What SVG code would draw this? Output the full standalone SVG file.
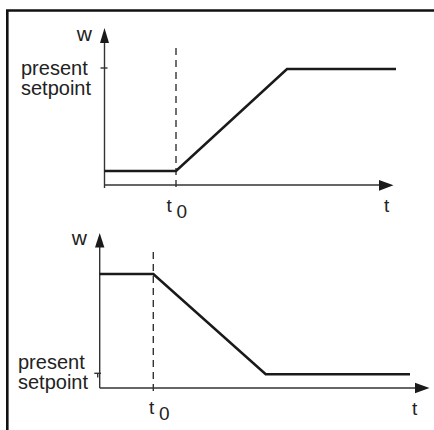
<svg xmlns="http://www.w3.org/2000/svg" width="434" height="430" viewBox="0 0 434 430">
<defs>
<style>
.frame{fill:none;stroke:#111;stroke-width:2.6}
.axis{fill:none;stroke:#333;stroke-width:1.4}
.dash{fill:none;stroke:#333;stroke-width:1.4;stroke-dasharray:7,5}
.sig{fill:none;stroke:#1a1a1a;stroke-width:2.6;stroke-linejoin:miter}
.head{fill:#1a1a1a}
.lbl{font-family:"Liberation Sans",Arial,sans-serif;font-size:20px;fill:#222}
.wl{font-family:"Liberation Sans",Arial,sans-serif;font-size:21px;fill:#222}
.tl{font-family:"Liberation Sans",Arial,sans-serif;font-size:19px;fill:#222}
</style>
</defs>
<rect width="434" height="430" fill="#fff"/>
<g id="frame">
<polyline class="frame" points="7.3,430 7.3,10.5 434,10.5"/>
</g>
<g id="connectors">
<line class="axis" x1="104.5" y1="188" x2="104.5" y2="40"/>
<polygon class="head" points="104.5,28 100,43 109,43"/>
<line class="axis" x1="104.5" y1="185" x2="382" y2="185"/>
<polygon class="head" points="393.5,185.3 379,180 379,190.7"/>
<line class="axis" x1="100.5" y1="68" x2="107.5" y2="68"/>
<line class="dash" x1="176" y1="48" x2="176" y2="189"/>
<polyline class="sig" points="104.5,171 176,171 287,69 396,69"/>
<line class="axis" x1="99.7" y1="388" x2="99.7" y2="244"/>
<polygon class="head" points="99.7,233 95,247.5 104.4,247.5"/>
<line class="axis" x1="99.7" y1="388" x2="417" y2="388"/>
<polygon class="head" points="429.5,388 415,382.8 415,393.2"/>
<line class="axis" x1="94.3" y1="373.3" x2="101" y2="373.3"/>
<line class="axis" x1="97.7" y1="373.3" x2="97.7" y2="377.5"/>
<line class="dash" x1="153.3" y1="252" x2="153.3" y2="391"/>
<polyline class="sig" points="99.7,274 153.3,274 265.7,374.3 410,374.3"/>
</g>
<g id="top-labels">
<text class="wl" x="92" y="41" text-anchor="end">w</text>
<text class="lbl" x="21" y="74.5">present</text>
<text class="lbl" x="21" y="94.5">setpoint</text>
<text class="tl" x="166.5" y="212">t<tspan dy="6" x="176.5">0</tspan></text>
<text class="tl" x="384" y="212">t</text>
</g>
<g id="bottom-labels">
<text class="wl" x="87" y="245" text-anchor="end">w</text>
<text class="lbl" x="18" y="368.5">present</text>
<text class="lbl" x="18" y="389">setpoint</text>
<text class="tl" x="149" y="414">t<tspan dy="6" x="159">0</tspan></text>
<text class="tl" x="412" y="415">t</text>
</g>
</svg>
